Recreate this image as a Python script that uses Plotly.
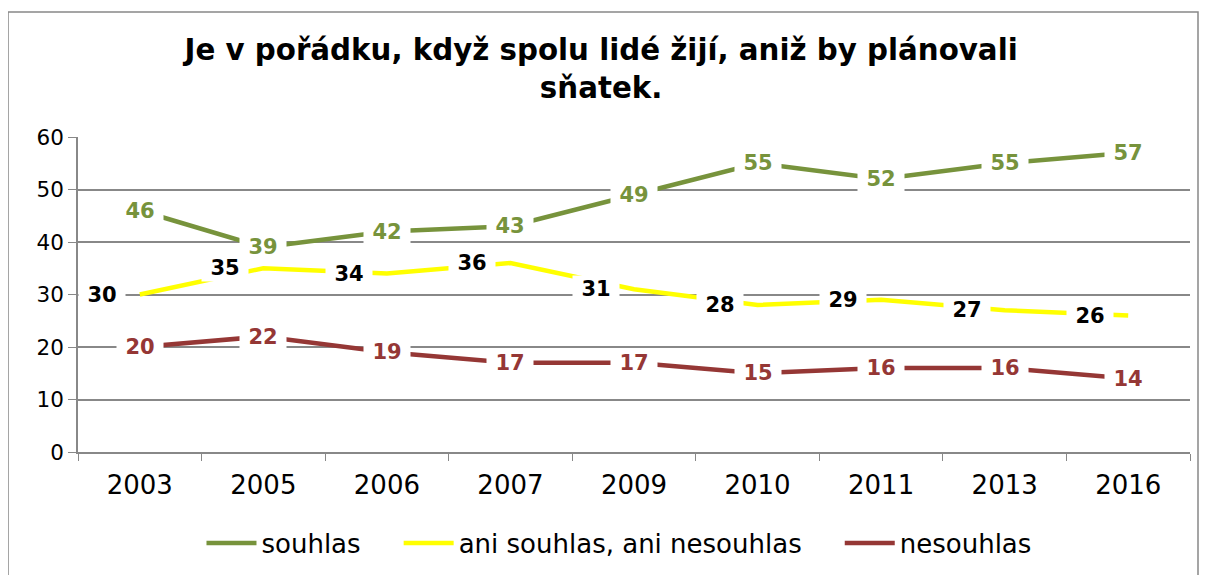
import plotly.graph_objects as go

years = ["2003", "2005", "2006", "2007", "2009", "2010", "2011", "2013", "2016"]
souhlas = [46, 39, 42, 43, 49, 55, 52, 55, 57]
ani = [30, 35, 34, 36, 31, 28, 29, 27, 26]
nesouhlas = [20, 22, 19, 17, 17, 15, 16, 16, 14]
y_ticks = [0, 10, 20, 30, 40, 50, 60]

GREEN = "#77933C"
YELLOW = "#FFFF00"
RED = "#953735"
GRID = "#888888"
FONT = "DejaVu Sans"

# page body adds an 8px offset; compensate in margins
L, T = 70, 129
PW, PH = 1112, 315
PAD = "\u00a0" * 4

fig = go.Figure()
series = [
    ("souhlas" + PAD, souhlas, GREEN, GREEN, 0),
    ("ani souhlas, ani nesouhlas" + PAD, ani, YELLOW, "#000000", -38),
    ("nesouhlas", nesouhlas, RED, RED, 0),
]
annotations = []
for name, vals, col, lblcol, xs in series:
    fig.add_trace(go.Scatter(
        x=years, y=vals, mode="lines", name=name,
        line=dict(color=col, width=4.5),
        hoverinfo="skip",
    ))
    for i, yv in enumerate(vals):
        annotations.append(dict(
            x=i, y=yv, xref="x", yref="y", text=f"<b>{yv}</b>",
            showarrow=False, xshift=xs, yshift=0,
            font=dict(family=FONT, size=21, color=lblcol),
            bgcolor="white", width=46, height=26, borderpad=0,
            xanchor="center", yanchor="middle",
        ))

fig.update_layout(
    width=1208, height=575,
    margin=dict(l=L, r=1208 - L - PW, t=T, b=575 - T - PH),
    paper_bgcolor="white", plot_bgcolor="white",
    title=dict(
        text="<b>Je v pořádku, když spolu lidé žijí, aniž by plánovali<br>sňatek.</b>",
        x=0.491, xanchor="center", y=1 - 52 / 575, yanchor="middle",
        font=dict(family=FONT, size=29.3, color="black"),
    ),
    font=dict(family=FONT, color="black"),
    xaxis=dict(
        type="category", tickson="boundaries", ticks="outside", ticklen=7,
        tickcolor=GRID, showline=True, linecolor=GRID, linewidth=1.5,
        showgrid=False, tickfont=dict(family=FONT, size=26),
        range=[-0.5, 8.5], ticklabelstandoff=9, automargin=False,
    ),
    yaxis=dict(
        range=[0, 60], tickvals=y_ticks, ticks="outside", ticklen=8,
        tickcolor=GRID, showline=True, linecolor=GRID, linewidth=1.5,
        showgrid=True, gridcolor=GRID, gridwidth=1.5, zeroline=False,
        tickfont=dict(family=FONT, size=21.5), ticksuffix="\u00a0\u2009",
        automargin=False,
    ),
    legend=dict(
        orientation="h", x=0.4865, xanchor="center", y=(444 - 535) / PH,
        yanchor="middle",
        font=dict(family=FONT, size=26), itemwidth=50, traceorder="normal",
    ),
    annotations=annotations,
    shapes=[dict(
        type="rect", xref="paper", yref="paper",
        x0=(0 - L) / PW, x1=(1190 - L) / PW,
        y0=(444 - 600) / PH, y1=(444 - 4) / PH,
        line=dict(color=GRID, width=1.5), fillcolor="rgba(0,0,0,0)",
        layer="below",
    )],
)

fig.write_html("out.html")
